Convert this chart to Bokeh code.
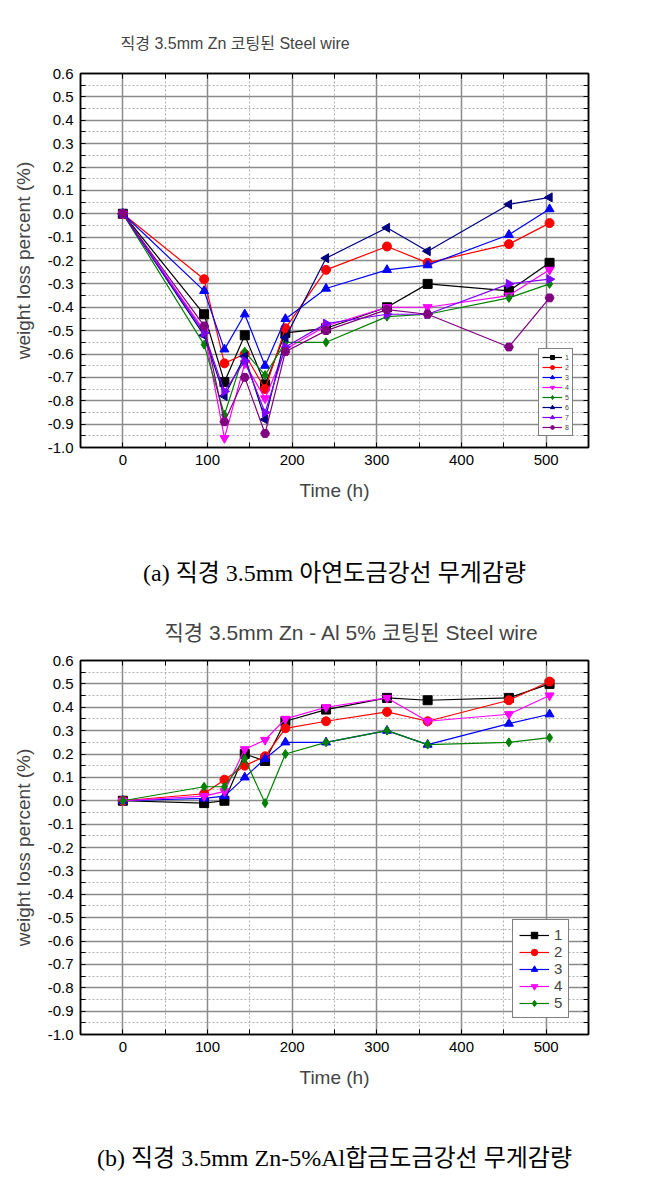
from bokeh.plotting import figure
from bokeh.models import (LinearAxis, FixedTicker, Legend, LegendItem, Title, Range1d)
from bokeh.layouts import column
from bokeh.embed import file_html
from bokeh.resources import INLINE
import math

# ---------------- data ----------------
time_h = [0, 96, 120, 144, 168, 192, 240, 312, 360, 456, 504]

# (a) Zn coated wire, 8 specimens
zn_1 = [0, -0.43, -0.72, -0.52, -0.73, -0.51, -0.49, -0.40, -0.30, -0.33, -0.21]
zn_2 = [0, -0.28, -0.64, -0.60, -0.75, -0.49, -0.24, -0.14, -0.21, -0.13, -0.04]
zn_3 = [0, -0.33, -0.58, -0.43, -0.65, -0.45, -0.32, -0.24, -0.22, -0.09, 0.02]
zn_4 = [0, -0.50, -0.96, -0.64, -0.79, -0.58, -0.48, -0.40, -0.40, -0.35, -0.24]
zn_5 = [0, -0.56, -0.86, -0.59, -0.69, -0.55, -0.55, -0.44, -0.43, -0.36, -0.30]
zn_6 = [0, -0.52, -0.78, -0.61, -0.88, -0.53, -0.19, -0.06, -0.16, 0.04, 0.07]
zn_7 = [0, -0.51, -0.76, -0.63, -0.85, -0.57, -0.47, -0.43, -0.43, -0.30, -0.28]
zn_8 = [0, -0.48, -0.89, -0.70, -0.94, -0.59, -0.50, -0.41, -0.43, -0.57, -0.36]
zn_labels = ["1", "2", "3", "4", "5", "6", "7", "8"]

# (b) Zn-5%Al coated wire, 5 specimens
al_1 = [0, -0.01, 0.00, 0.20, 0.17, 0.34, 0.39, 0.44, 0.43, 0.44, 0.50]
al_2 = [0, 0.03, 0.09, 0.15, 0.19, 0.31, 0.34, 0.38, 0.34, 0.43, 0.51]
al_3 = [0, 0.01, 0.02, 0.10, 0.18, 0.25, 0.25, 0.30, 0.24, 0.33, 0.37]
al_4 = [0, 0.02, 0.04, 0.22, 0.26, 0.35, 0.40, 0.44, 0.34, 0.37, 0.45]
al_5 = [0, 0.06, 0.06, 0.18, -0.01, 0.20, 0.25, 0.30, 0.24, 0.25, 0.27]
al_labels = ["1", "2", "3", "4", "5"]

x_ticks = [0, 100, 200, 300, 400, 500]
x_tick_labels = ["0", "100", "200", "300", "400", "500"]
x_minor = [-50, 50, 150, 250, 350, 450, 550]
y_ticks = [-1.0, -0.9, -0.8, -0.7, -0.6, -0.5, -0.4, -0.3, -0.2, -0.1,
           0.0, 0.1, 0.2, 0.3, 0.4, 0.5, 0.6]
y_tick_labels = ["-1.0", "-0.9", "-0.8", "-0.7", "-0.6", "-0.5", "-0.4", "-0.3",
                 "-0.2", "-0.1", "0.0", "0.1", "0.2", "0.3", "0.4", "0.5", "0.6"]
y_minor = [-0.95, -0.85, -0.75, -0.65, -0.55, -0.45, -0.35, -0.25, -0.15, -0.05,
           0.05, 0.15, 0.25, 0.35, 0.45, 0.55]

title_a = "직경 3.5mm  Zn 코팅된 Steel wire"
title_b = "직경 3.5mm  Zn - Al 5% 코팅된 Steel wire"
caption_a = "(a) 직경 3.5mm 아연도금강선 무게감량"
caption_b = "(b) 직경 3.5mm Zn-5%Al합금도금강선 무게감량"
x_label = "Time (h)"
y_label = "weight loss percent (%)"

# ---------------- styles ----------------
SANS = "Liberation Sans, Noto Sans CJK KR"
SERIF = "Liberation Serif, Noto Sans CJK KR"

zn_styles = [
    ("black", "square", 0.0),
    ("#ff0000", "circle", 0.0),
    ("#0000ff", "triangle", 0.0),
    ("#ff00ff", "inverted_triangle", 0.0),
    ("#008000", "diamond", 0.0),
    ("#000080", "triangle", math.pi / 2),
    ("#8000ff", "triangle", -math.pi / 2),
    ("#800080", "hex", 0.0),
]

HAS_STANDOFF = "standoff" in Title.properties()


def style_axis(ax, show_labels):
    ax.axis_line_color = "black"
    ax.axis_line_width = 1.5
    ax.major_tick_in = 5
    ax.major_tick_out = 0
    ax.minor_tick_in = 5
    ax.minor_tick_out = 0
    ax.major_tick_line_color = "black"
    ax.minor_tick_line_color = "black"
    ax.major_label_text_font = SANS
    if show_labels:
        ax.major_label_text_font_size = "15px"
        ax.major_label_text_color = "black"
    else:
        ax.major_label_text_font_size = "2px"
        ax.major_label_text_color = None
        ax.major_label_standoff = 0


def make_fig(height, min_top, min_bottom, title_text, title_size, title_offset,
             title_standoff, caption, caption_standoff):
    xt = FixedTicker(ticks=x_ticks, minor_ticks=x_minor)
    yt = FixedTicker(ticks=y_ticks, minor_ticks=y_minor)
    p = figure(width=647, height=height, x_range=Range1d(-50, 550),
               y_range=Range1d(-1.0, 0.6), output_backend="svg",
               toolbar_location=None, min_border_left=80, min_border_right=59,
               min_border_top=min_top, min_border_bottom=min_bottom)
    p.background_fill_color = "white"
    p.border_fill_color = "white"
    p.outline_line_color = "black"
    p.outline_line_width = 1.5

    xaxis = p.below[0]
    yaxis = p.left[0]

    # mirror axes (ticks only)
    top = LinearAxis(ticker=xt)
    right = LinearAxis(ticker=yt)
    style_axis(top, False)
    style_axis(right, False)
    p.add_layout(top, "above")
    p.add_layout(right, "right")

    xaxis.ticker = xt
    yaxis.ticker = yt
    style_axis(xaxis, True)
    style_axis(yaxis, True)
    xaxis.major_label_overrides = dict(zip(x_ticks, x_tick_labels))
    yaxis.major_label_overrides = dict(zip(y_ticks, y_tick_labels))
    xaxis.major_label_standoff = 7
    yaxis.major_label_standoff = 7
    xaxis.axis_label = x_label
    yaxis.axis_label = y_label
    for ax in (xaxis, yaxis):
        ax.axis_label_text_font = SANS
        ax.axis_label_text_font_size = "19px"
        ax.axis_label_text_font_style = "normal"
    xaxis.axis_label_standoff = 12
    yaxis.axis_label_standoff = 11

    p.xgrid.ticker = xt
    p.ygrid.ticker = yt
    for g in (p.xgrid, p.ygrid):
        g.grid_line_color = "#8a8a8a"
        g.grid_line_width = 1.5
        g.minor_grid_line_color = "#b0b0b0"
        g.minor_grid_line_width = 1
        g.minor_grid_line_dash = "2 2"

    t = Title(text=title_text, align="left", offset=title_offset,
              text_font=SANS, text_font_size=title_size, text_font_style="normal")
    if HAS_STANDOFF:
        t.standoff = title_standoff
    p.add_layout(t, "above")

    # caption: label of an empty axis stacked below the x axis
    cap = LinearAxis(ticker=FixedTicker(ticks=[]))
    cap.axis_line_color = None
    cap.major_tick_in = 0
    cap.major_tick_out = 0
    cap.minor_tick_in = 0
    cap.minor_tick_out = 0
    cap.major_label_standoff = 0
    cap.major_label_text_font_size = "2px"
    cap.major_label_text_color = None
    cap.axis_label = caption
    cap.axis_label_text_font = SERIF
    cap.axis_label_text_font_size = "24px"
    cap.axis_label_text_font_style = "normal"
    cap.axis_label_text_color = "black"
    cap.axis_label_standoff = caption_standoff
    p.add_layout(cap, "below")
    return p


# ---------------- (a) ----------------
pa = make_fig(600, 73, 153, title_a, "16px", 40, 44, caption_a, 56)
items = []
for ys, lab, (col, mk, ang) in zip([zn_1, zn_2, zn_3, zn_4, zn_5, zn_6, zn_7, zn_8],
                                   zn_labels, zn_styles):
    rl = pa.line(time_h, ys, line_color=col, line_width=1.2)
    rm = pa.scatter(time_h, ys, marker=mk, angle=ang, size=9,
                    fill_color=col, line_color=col)
    items.append(LegendItem(label=lab, renderers=[rl, rm]))
leg_a = Legend(items=items, location=(458, 11), glyph_width=20, glyph_height=10,
               label_height=10, label_width=4, spacing=0, padding=3, margin=0,
               label_standoff=3, label_text_font_size="7px", label_text_font=SANS,
               border_line_color="black", border_line_width=1.5,
               background_fill_color="white", background_fill_alpha=1)
pa.add_layout(leg_a, "center")

# ---------------- (b) ----------------
pb = make_fig(579, 60, 145, title_b, "21px", 84, 33, caption_b, 54)
items = []
for ys, lab, (col, mk, ang) in zip([al_1, al_2, al_3, al_4, al_5], al_labels, zn_styles[:5]):
    rl = pb.line(time_h, ys, line_color=col, line_width=1.2)
    rm = pb.scatter(time_h, ys, marker=mk, angle=ang, size=9,
                    fill_color=col, line_color=col)
    items.append(LegendItem(label=lab, renderers=[rl, rm]))
leg_b = Legend(items=items, location=(432, 16), glyph_width=30, glyph_height=16,
               label_height=16, label_width=8, spacing=0, padding=6, margin=0,
               label_standoff=5, label_text_font_size="15px", label_text_font=SANS,
               border_line_color="black", border_line_width=1.5,
               background_fill_color="white", background_fill_alpha=1)
pb.add_layout(leg_b, "center")

layout = column(pa, pb, spacing=0)
open("out.html", "w").write(file_html(layout, INLINE))
